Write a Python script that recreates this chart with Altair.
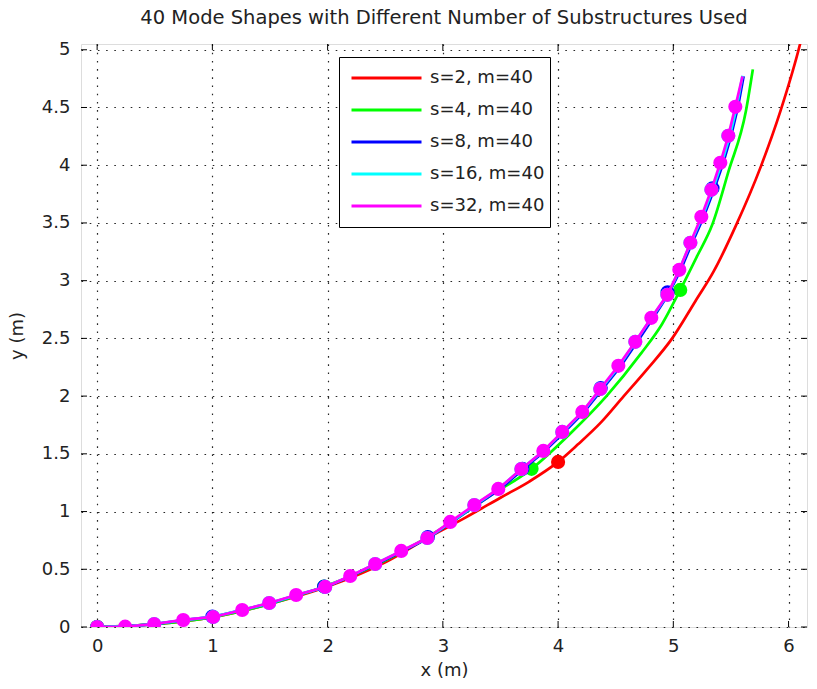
import altair as alt
import pandas as pd

series = ["s=2, m=40", "s=4, m=40", "s=8, m=40", "s=16, m=40", "s=32, m=40"]
colors = ["#ff0000", "#00ff00", "#0000ff", "#00ffff", "#ff00ff"]

# ---- line data ----
red_x = [0, 0.5, 1.0, 1.5, 2.0, 2.5, 2.9, 3.2, 3.5, 3.75, 4.0, 4.17, 4.37, 4.57, 4.77, 4.99, 5.19, 5.35, 5.54, 5.76, 5.93, 6.1, 6.16]
red_y = [0, 0.025, 0.085, 0.2, 0.35, 0.56, 0.79, 0.95, 1.12, 1.26, 1.43, 1.58, 1.77, 2.0, 2.23, 2.5, 2.82, 3.08, 3.47, 3.99, 4.47, 5.05, 5.3]

green_x = [0, 0.5, 1.0, 1.5, 1.97, 2.5, 3.0, 3.4, 3.77, 4.1, 4.42, 4.72, 4.9, 5.06, 5.2, 5.34, 5.48, 5.63, 5.69]
green_y = [0, 0.025, 0.085, 0.2, 0.35, 0.575, 0.86, 1.13, 1.37, 1.67, 2.0, 2.37, 2.62, 2.92, 3.2, 3.49, 3.95, 4.47, 4.83]

blue_x = [0, 0.25, 0.5, 0.75, 1.0, 1.25, 1.5, 1.73, 1.98, 2.2, 2.42, 2.65, 2.87, 3.07, 3.28, 3.49, 3.69, 3.88, 4.05, 4.22, 4.38, 4.54, 4.68, 4.82, 4.95, 5.06, 5.16, 5.26, 5.35, 5.43, 5.5, 5.56, 5.61]
blue_y = [0, 0.005, 0.025, 0.06, 0.087, 0.145, 0.205, 0.275, 0.345, 0.44, 0.543, 0.655, 0.768, 0.905, 1.05, 1.19, 1.362, 1.52, 1.685, 1.857, 2.055, 2.255, 2.46, 2.67, 2.87, 3.085, 3.32, 3.545, 3.78, 4.01, 4.25, 4.5, 4.77]

cyan_x = [0, 0.25, 0.5, 0.75, 1.0, 1.25, 1.5, 1.73, 1.98, 2.2, 2.41, 2.64, 2.87, 3.07, 3.28, 3.48, 3.68, 3.87, 4.04, 4.21, 4.37, 4.53, 4.67, 4.81, 4.95, 5.05, 5.15, 5.25, 5.34, 5.42, 5.49, 5.55, 5.6]
cyan_y = [0, 0.005, 0.026, 0.06, 0.087, 0.146, 0.207, 0.276, 0.346, 0.441, 0.545, 0.657, 0.77, 0.908, 1.055, 1.195, 1.366, 1.523, 1.688, 1.86, 2.06, 2.26, 2.468, 2.676, 2.875, 3.09, 3.325, 3.55, 3.785, 4.018, 4.253, 4.503, 4.775]

mag_x = [0, 0.243, 0.495, 0.747, 1.007, 1.259, 1.493, 1.727, 1.979, 2.196, 2.413, 2.639, 2.865, 3.064, 3.273, 3.481, 3.681, 3.872, 4.036, 4.21, 4.366, 4.523, 4.67, 4.809, 4.948, 5.052, 5.148, 5.243, 5.33, 5.408, 5.477, 5.538, 5.6]
mag_y = [0, 0.003, 0.026, 0.061, 0.087, 0.147, 0.208, 0.277, 0.347, 0.442, 0.546, 0.659, 0.771, 0.91, 1.057, 1.196, 1.369, 1.525, 1.69, 1.863, 2.062, 2.262, 2.47, 2.678, 2.877, 3.094, 3.328, 3.553, 3.787, 4.021, 4.255, 4.506, 4.77]

# ---- marker data (substructure start nodes) ----
red_mx = [0, 4.0]
red_my = [0, 1.43]
green_mx = [0, 1.97, 3.77, 5.06]
green_my = [0, 0.35, 1.37, 2.92]
blue_mx = [0, 1.0, 1.97, 2.87, 3.69, 4.37, 4.95, 5.34]
blue_my = [0, 0.09, 0.35, 0.78, 1.37, 2.07, 2.9, 3.8]
cyan_mx = mag_x[0:32:2]
cyan_my = mag_y[0:32:2]
mag_mx = mag_x[:32]
mag_my = mag_y[:32]

x_ticks = [0, 1, 2, 3, 4, 5, 6]
y_ticks = [0, 0.5, 1, 1.5, 2, 2.5, 3, 3.5, 4, 4.5, 5]

line_sets = [(red_x, red_y), (green_x, green_y), (blue_x, blue_y), (cyan_x, cyan_y), (mag_x, mag_y)]
marker_sets = [(red_mx, red_my), (green_mx, green_my), (blue_mx, blue_my), (cyan_mx, cyan_my), (mag_mx, mag_my)]
interps = ["monotone", "monotone", "linear", "linear", "linear"]

line_rows, marker_rows = [], []
for name, (xs, ys) in zip(series, line_sets):
    for i, (a, b) in enumerate(zip(xs, ys)):
        line_rows.append({"series": name, "x": a, "y": b, "order": i})
for name, (xs, ys) in zip(series, marker_sets):
    for a, b in zip(xs, ys):
        marker_rows.append({"series": name, "x": a, "y": b})
lines_df = pd.DataFrame(line_rows)
markers_df = pd.DataFrame(marker_rows)
xt_df = pd.DataFrame({"x": x_ticks})
yt_df = pd.DataFrame({"y": y_ticks})

FONT = "DejaVu Sans"
W, H = 726, 583

xscale = alt.Scale(domain=[-0.14, 6.16], nice=False, zero=False)
yscale = alt.Scale(domain=[0, 5.05], nice=False, zero=False)
grid_dash = [1.6, 6.6]
x_axis = alt.Axis(values=x_ticks, title="x (m)", grid=True, gridDash=grid_dash, gridColor="#000000",
                  gridWidth=1.2, gridOpacity=0.85, tickSize=0, domain=False, labelPadding=10,
                  labelFontSize=18, labelFont=FONT, labelColor="#222", titleFont=FONT, titleFontSize=18,
                  titleFontWeight="normal", titleColor="#222", titlePadding=6, labelFlush=False)
y_axis = alt.Axis(values=y_ticks, title="y (m)", grid=True, gridDash=grid_dash, gridColor="#000000",
                  gridWidth=1.2, gridOpacity=0.85, tickSize=0, domain=False, labelPadding=11,
                  labelFontSize=18, labelFont=FONT, labelColor="#222", titleFont=FONT, titleFontSize=18,
                  titleFontWeight="normal", titleColor="#222", titlePadding=15, labelFlush=False,
                  format="~g")

X = alt.X("x:Q", scale=xscale, axis=x_axis)
Y = alt.Y("y:Q", scale=yscale, axis=y_axis)

color = alt.Color("series:N", scale=alt.Scale(domain=series, range=colors), sort=series,
                  legend=alt.Legend(title=None, orient="none", legendX=258, legendY=13,
                                    symbolType="stroke", symbolSize=4900, symbolStrokeWidth=3,
                                    symbolOffset=6,
                                    labelFontSize=18, labelFont=FONT, labelColor="#222", labelOffset=7,
                                    strokeColor="#000000", fillColor="#ffffff", padding=5,
                                    clipHeight=32, rowPadding=0))

layers = []
for name, col, interp in zip(series, colors, interps):
    layers.append(
        alt.Chart(lines_df).transform_filter(alt.datum.series == name)
        .mark_line(strokeWidth=2.7, clip=True, interpolate=interp)
        .encode(x=X, y=Y, order="order:Q", color=color)
    )
    layers.append(
        alt.Chart(markers_df).transform_filter(alt.datum.series == name)
        .mark_circle(size=200, opacity=1, clip=True)
        .encode(x=X, y=Y, color=alt.value(col))
    )

tick_len = 6
ticks = [
    alt.Chart(xt_df).mark_rule(color="#000", strokeWidth=1).encode(x=X, y=alt.value(H), y2=alt.value(H - tick_len)),
    alt.Chart(xt_df).mark_rule(color="#000", strokeWidth=1).encode(x=X, y=alt.value(0), y2=alt.value(tick_len)),
    alt.Chart(yt_df).mark_rule(color="#000", strokeWidth=1).encode(y=Y, x=alt.value(0), x2=alt.value(tick_len)),
    alt.Chart(yt_df).mark_rule(color="#000", strokeWidth=1).encode(y=Y, x=alt.value(W), x2=alt.value(W - tick_len)),
]

chart = alt.layer(*ticks, *layers).properties(
    width=W, height=H,
    title=alt.TitleParams("40 Mode Shapes with Different Number of Substructures Used",
                          font=FONT, fontSize=19.5, fontWeight="normal", color="#222",
                          anchor="middle", offset=12),
    autosize=alt.AutoSizeParams(type="none"),
    padding={"left": 81, "top": 44, "right": 10, "bottom": 62},
).configure_view(stroke="#000000", strokeWidth=1.2).configure(background="white")

chart.save("out.html", embed_options={"renderer": "svg", "actions": False})
